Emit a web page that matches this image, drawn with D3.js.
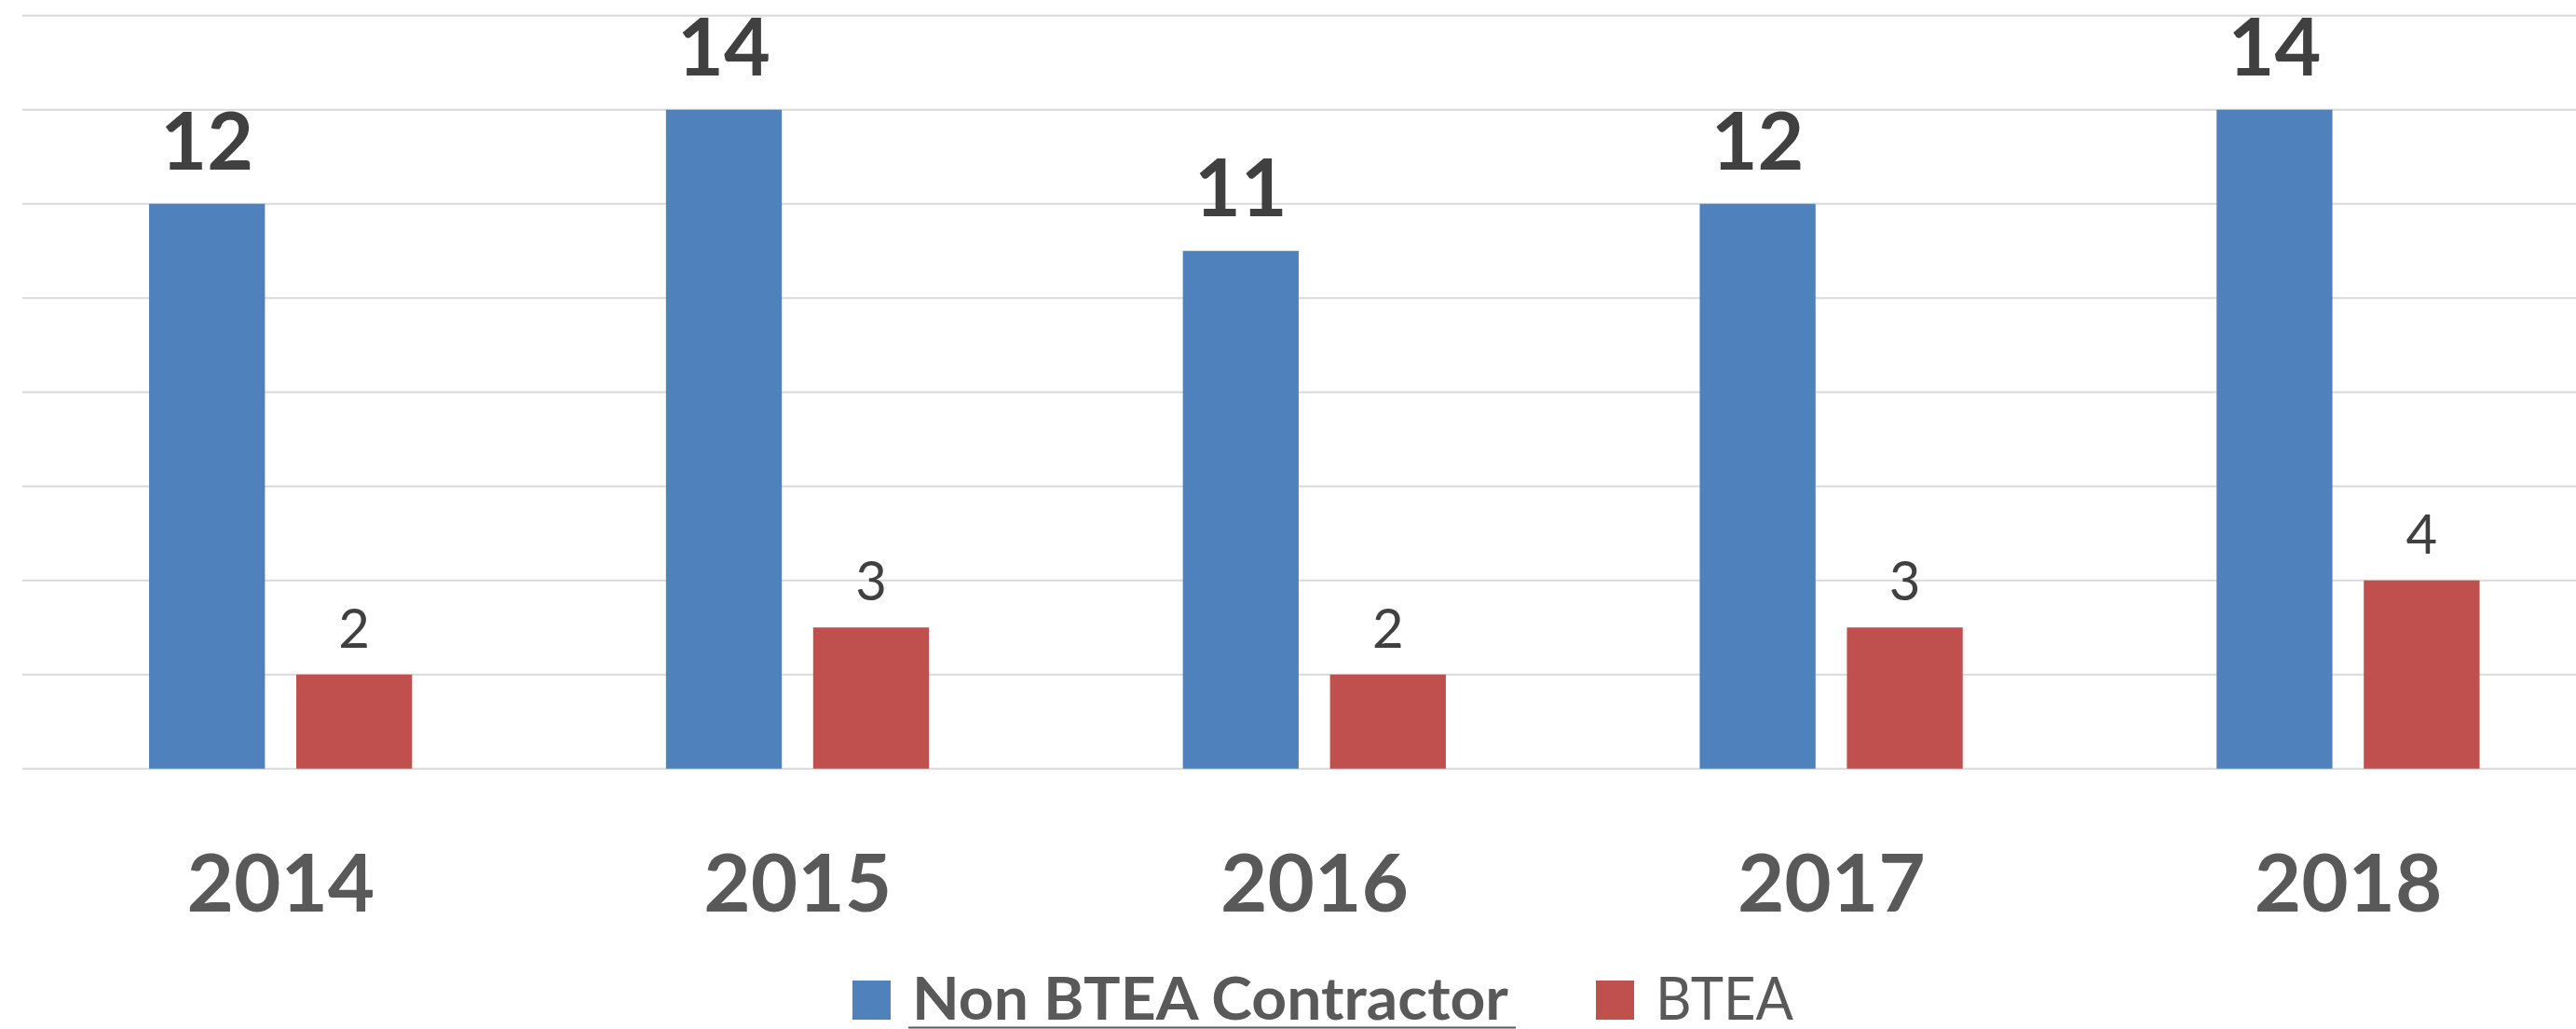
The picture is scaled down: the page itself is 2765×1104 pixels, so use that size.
<!DOCTYPE html>
<html>
<head>
<meta charset="utf-8">
<script src="https://cdn.jsdelivr.net/npm/d3@7"></script>
<style>
  html, body { margin: 0; padding: 0; background: #fff; }
  svg { display: block; }
</style>
</head>
<body>
<svg class="chart" width="2765" height="1104"></svg>
<script>
var years = ["2014", "2015", "2016", "2017", "2018"]
var seriesNames = ["Non BTEA Contractor", "BTEA"]
var nonBtea = [12, 14, 11, 12, 14]
var btea = [2, 3, 2, 3, 4]
var yTicks = [0, 2, 4, 6, 8, 10, 12, 14, 16]

var blue = "#4F81BD"
var red = "#C0504D"
var font = "Lato, 'Open Sans', sans-serif"

var chart = d3.select(".chart")

var x0 = d3.scaleBand().domain(years).range([24, 2798]).padding(0)
var bw = x0.bandwidth()
var x1 = d3.scaleBand().domain(seriesNames)
    .range([bw * 0.2452, bw * 0.754])
    .paddingInner(0.213).paddingOuter(0)

var y = d3.scaleLinear().domain([0, 16]).range([824.7, 16.7])

// gridlines
chart.append("g")
    .selectAll("line")
    .data(yTicks)
  .enter().append("line")
    .attr("x1", 24)
    .attr("x2", 2765)
    .attr("y1", function(d) { return y(d) })
    .attr("y2", function(d) { return y(d) })
    .attr("stroke", "#D9D9D9")
    .attr("stroke-width", 2)

var rows = years.map(function(yr, i) {
  return { year: yr, vals: [
    { key: seriesNames[0], v: nonBtea[i] },
    { key: seriesNames[1], v: btea[i] }
  ]}
})

var groups = chart.selectAll(".grp")
    .data(rows)
  .enter().append("g")
    .attr("class", "grp")
    .attr("transform", function(d) { return "translate(" + x0(d.year) + ",0)" })

groups.selectAll("rect")
    .data(function(d) { return d.vals })
  .enter().append("rect")
    .attr("x", function(d) { return x1(d.key) })
    .attr("width", x1.bandwidth())
    .attr("y", function(d) { return y(d.v) })
    .attr("height", function(d) { return y(0) - y(d.v) })
    .attr("fill", function(d) { return d.key == "BTEA" ? red : blue })

groups.selectAll(".lbl")
    .data(function(d) { return d.vals })
  .enter().append("text")
    .attr("class", "lbl")
    .attr("x", function(d) { return x1(d.key) + x1.bandwidth() / 2 })
    .attr("y", function(d) { return y(d.v) - (d.key == "BTEA" ? 29 : 37) })
    .attr("text-anchor", "middle")
    .attr("fill", "#404040")
    .style("font-family", font)
    .style("font-weight", function(d) { return d.key == "BTEA" ? "normal" : "bold" })
    .style("font-size", function(d) { return d.key == "BTEA" ? "58px" : "86px" })
    .text(function(d) { return d.v })

// x axis labels
var xAxis = chart.append("g")
    .attr("transform", "translate(0," + y(0) + ")")
    .call(d3.axisBottom(x0).tickSize(0).tickPadding(0))
xAxis.select(".domain").remove()
xAxis.selectAll("text")
    .attr("y", 153)
    .attr("dy", 0)
    .attr("fill", "#595959")
    .style("font-family", font)
    .style("font-weight", "bold")
    .style("font-size", "87px")

// legend
var legend = [
  { name: seriesNames[0], color: blue, x: 915, w: 640, bold: true },
  { name: seriesNames[1], color: red, x: 1713, w: 148, bold: false }
]
var lg = chart.selectAll(".legend")
    .data(legend)
  .enter().append("g")
    .attr("class", "legend")

lg.append("rect")
    .attr("x", function(d) { return d.x })
    .attr("y", 1052)
    .attr("width", 41)
    .attr("height", 42)
    .attr("fill", function(d) { return d.color })

lg.append("text")
    .attr("x", function(d) { return d.x + 64 })
    .attr("y", 1094)
    .attr("textLength", function(d) { return d.w })
    .attr("lengthAdjust", "spacingAndGlyphs")
    .attr("fill", "#595959")
    .style("font-family", font)
    .style("font-weight", function(d) { return d.bold ? "bold" : "normal" })
    .style("font-size", "64px")
    .text(function(d) { return d.name })

chart.append("line")
    .attr("x1", 975).attr("x2", 1627)
    .attr("y1", 1102.5).attr("y2", 1102.5)
    .attr("stroke", "#595959")
    .attr("stroke-width", 2)
</script>
</body>
</html>
